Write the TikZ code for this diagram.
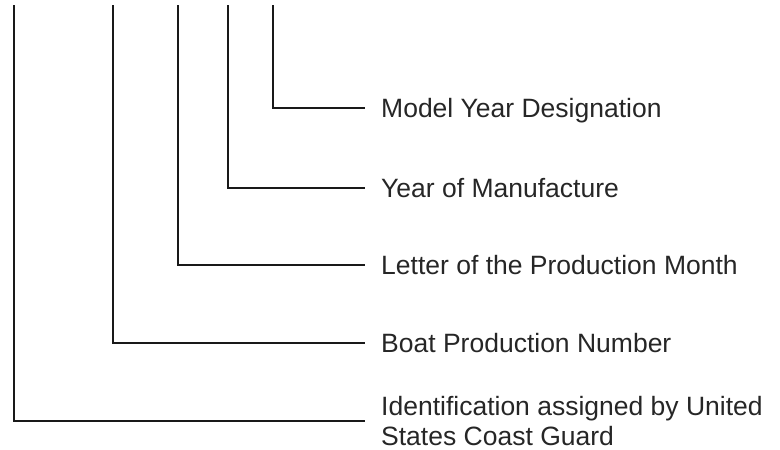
\documentclass[tikz,border=0pt]{standalone}
\usepackage{fontspec}
\setmainfont{Liberation Sans}
\begin{document}
\begin{tikzpicture}[x=1pt,y=-1pt,
  lbl/.style={anchor=west,inner xsep=16pt,inner ysep=0pt,text height=19pt,text depth=0pt,
    font=\fontsize{26.5pt}{30pt}\selectfont,text=black!85},
  conn/.style={line width=2.2pt,draw=black!90}]
\useasboundingbox (0,0) rectangle (780,450);
\coordinate (t1) at (14,5);
\coordinate (t2) at (113,5);
\coordinate (t3) at (178,5);
\coordinate (t4) at (228,5);
\coordinate (t5) at (273,5);
\node[lbl] (l5) at (365,108) {Model Year Designation};
\node[lbl] (l4) at (365,188) {Year of Manufacture};
\node[lbl] (l3) at (365,265) {Letter of the Production Month};
\node[lbl] (l2) at (365,343) {Boat Production Number};
\node[lbl,align=left,text height=,text depth=] (l1) at (365,421) {Identification assigned by United\\States Coast Guard};
\draw[conn] (t5) |- (l5.west);
\draw[conn] (t4) |- (l4.west);
\draw[conn] (t3) |- (l3.west);
\draw[conn] (t2) |- (l2.west);
\draw[conn] (t1) |- (l1.west);
\end{tikzpicture}
\end{document}
